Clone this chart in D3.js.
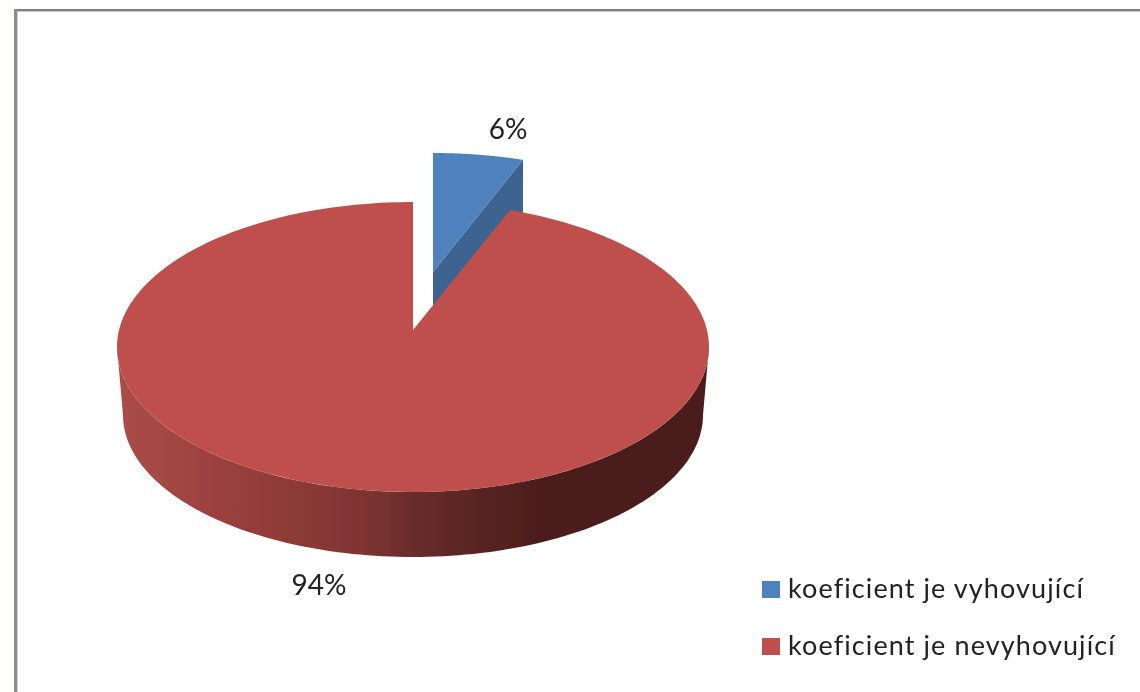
<!DOCTYPE html>
<html><head><meta charset="utf-8">
<script src="https://cdn.jsdelivr.net/npm/d3@7/dist/d3.min.js"></script>
<style>html,body{margin:0;padding:0;background:#fff}svg{display:block}text{font-family:Lato,"Open Sans",sans-serif;fill:#222}</style>
</head><body><svg id="c" width="1140" height="692"></svg>
<script>
const categories = ["koeficient je vyhovující", "koeficient je nevyhovující"];
const values = [6, 94];
const labels = ["6%", "94%"];
const colors = ["#4f81bd", "#be504d"];
const W = 1140, H = 692;
const svg = d3.select("#c");
const defs = svg.append("defs");
defs.append("filter").attr("id","soft").append("feGaussianBlur").attr("stdDeviation",0.7);
defs.append("filter").attr("id","edge").append("feGaussianBlur").attr("stdDeviation",0.5);
const grad = defs.append("linearGradient").attr("id","side").attr("gradientUnits","userSpaceOnUse")
  .attr("x1",117).attr("x2",709).attr("y1",0).attr("y2",0);
[[0,"#aa4d49"],[0.2,"#983f3c"],[0.4,"#813533"],[0.52,"#662b29"],[0.65,"#532120"],[0.72,"#4c1e1c"],[1,"#4c1e1c"]]
  .forEach(s=>grad.append("stop").attr("offset",s[0]).attr("stop-color",s[1]));

// frame
svg.append("rect").attr("width",14).attr("height",H).attr("fill","#fffffa");
svg.append("rect").attr("x",14).attr("y",9).attr("width",W-14).attr("height",2).attr("fill","#7f7f7f");
svg.append("rect").attr("x",14).attr("y",9).attr("width",3).attr("height",H-9).attr("fill","#8c8c8c");
svg.append("rect").attr("x",17).attr("y",11).attr("width",W-17).attr("height",1).attr("fill","#c8c8c8");
svg.append("rect").attr("x",17).attr("y",11).attr("width",1).attr("height",H-11).attr("fill","#d0d0d0");

const arcs = d3.pie().sort(null).startAngle(0).endAngle(2*Math.PI)(values);
const color = d3.scaleOrdinal(categories, colors);
const line = d3.line();
// view of the tilted disc
const cx = 413, cy = 347, rx = 296, ry = 145, apexY = 330;
const warp = (a, k) => a - k*Math.sin(a);
const pt = (a, k, ox=0, oy=0) => { const t = warp(a,k); return [cx+ox+rx*Math.sin(t), cy+oy-ry*Math.cos(t)]; };
const sweep = (a0, a1, k, ox, oy) => d3.range(0, 241).map(i => pt(a0+(a1-a0)*i/240, k, ox, oy));

const pie = svg.append("g").attr("filter","url(#edge)");

// exploded slice
const blue = arcs[0];
const ox = 20, oy = -49, bk = 0.185, depth = 65;
const bEnd = pt(blue.endAngle, bk, ox, oy);
const bApex = [cx+ox, apexY-58];
pie.append("path").attr("d", line([bApex, bEnd, [bEnd[0], bEnd[1]+depth], [bApex[0], bApex[1]+depth]])+"Z").attr("fill","#3c6391");
pie.append("path").attr("d", line([bApex, ...sweep(blue.startAngle, blue.endAngle, bk, ox, oy)])+"Z").attr("fill", color(categories[0]));

// red slice: rim then face
const red = arcs[1], rk = 0.118;
const bottomCy = 415, bottomRx = 290, bottomRy = 142;
const frontOuter = d3.range(0,121).map(i => { const a = Math.PI/2 + Math.PI*i/120; return [cx+bottomRx*Math.sin(a), bottomCy-bottomRy*Math.cos(a)]; });
const frontTop = d3.range(0,121).map(i => { const a = 3*Math.PI/2 - Math.PI*i/120; return [cx+rx*Math.sin(a), cy-ry*Math.cos(a)]; });
pie.append("path").attr("d", line([...frontOuter, ...frontTop])+"Z").attr("fill","url(#side)");
pie.append("path").attr("d", line([[cx,apexY], ...sweep(red.startAngle, red.endAngle, rk, 0, 0)])+"Z").attr("fill", color(categories[1]));

// data labels
const lab = svg.append("g").attr("filter","url(#soft)");
const labelPos = [[508,139],[319,595]];
lab.selectAll("text").data(labels).join("text")
  .attr("x",(d,i)=>labelPos[i][0]).attr("y",(d,i)=>labelPos[i][1])
  .attr("text-anchor","middle").attr("font-size",28).text(d=>d);

// legend
const y = d3.scalePoint(categories,[589,646]);
const leg = svg.append("g").attr("filter","url(#soft)");
leg.selectAll("rect").data(categories).join("rect")
  .attr("x",762).attr("y",d=>y(d)-8).attr("width",18).attr("height",17).attr("fill",d=>color(d));
leg.selectAll("text").data(categories).join("text")
  .attr("x",788).attr("y",d=>y(d)+9).attr("font-size",27).attr("letter-spacing",1.1).text(d=>d);
</script></body></html>
